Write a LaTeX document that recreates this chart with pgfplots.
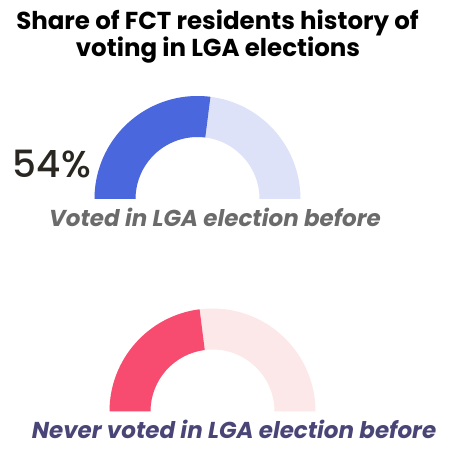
\documentclass[border=0pt]{standalone}
\usepackage{fontspec}
\setmainfont{Poppins}
\newfontfamily\pmed{Poppins}[UprightFont={* Medium}]
\usepackage{pgfplots}
\pgfplotsset{compat=1.18}
\usepackage{pgfplotstable}

\definecolor{votedA}{HTML}{4A67DD}
\definecolor{votedB}{HTML}{DDE2F8}
\definecolor{neverA}{HTML}{F74C70}
\definecolor{neverB}{HTML}{FDE8E9}
\definecolor{numtxt}{HTML}{2A2722}
\definecolor{subgray}{HTML}{6B6B6B}
\definecolor{subpurple}{HTML}{4A4577}

% share (%), gauge centre x, gauge centre y
\pgfplotstableread{
share cx  cy
54  197.5 254
46  212.5 41.5
}\gauges

% half donut: share, cx, cy, colour, rest colour
\newcommand{\gauge}[5]{%
  \fill[#5] (axis cs:{#2+103},#3) arc[start angle=0, end angle=180, radius=103pt]
     -- (axis cs:{#2-62},#3) arc[start angle=180, end angle=0, radius=62pt] -- cycle;
  \fill[#4] (axis cs:{#2-103},#3) arc[start angle=180, end angle={180-1.8*#1}, radius=103pt]
     -- (axis cs:{#2+62*cos(180-1.8*#1)},{#3+62*sin(180-1.8*#1)})
     arc[start angle={180-1.8*#1}, end angle=180, radius=62pt] -- cycle;
}

\begin{document}
\begin{tikzpicture}
\pgfplotstablegetelem{0}{share}\of\gauges \let\sa\pgfplotsretval
\pgfplotstablegetelem{1}{share}\of\gauges \let\sb\pgfplotsretval
\begin{axis}[
  width=450pt, height=453pt, scale only axis,
  xmin=0, xmax=450, ymin=0, ymax=453,
  hide axis, clip=false,
]
\path (rel axis cs:0,0) rectangle (rel axis cs:1,1);
\gauge{\sa}{197.5}{254}{votedA}{votedB}
\gauge{\sb}{212.5}{41.5}{neverA}{neverB}

\node[anchor=base, inner sep=0] at (axis cs:217.5,423.7)
  {\fontsize{24.5}{28}\selectfont\bfseries Share of FCT residents history of};
\node[anchor=base, inner sep=0] at (axis cs:218,396.3)
  {\fontsize{24.5}{28}\selectfont\bfseries voting in LGA elections};

\node[anchor=base east, inner sep=0, text=numtxt] at (axis cs:91,275.7)
  {\pmed\fontsize{37.5}{42}\selectfont 54\%};

\node[anchor=base, inner sep=0, text=subgray] at (axis cs:215,226.3)
  {\fontsize{23}{27}\selectfont\bfseries\itshape Voted in LGA election before};
\node[anchor=base, inner sep=0, text=subpurple] at (axis cs:234,14.7)
  {\fontsize{23}{27}\selectfont\bfseries\itshape Never voted in LGA election before};
\end{axis}
\end{tikzpicture}
\end{document}
